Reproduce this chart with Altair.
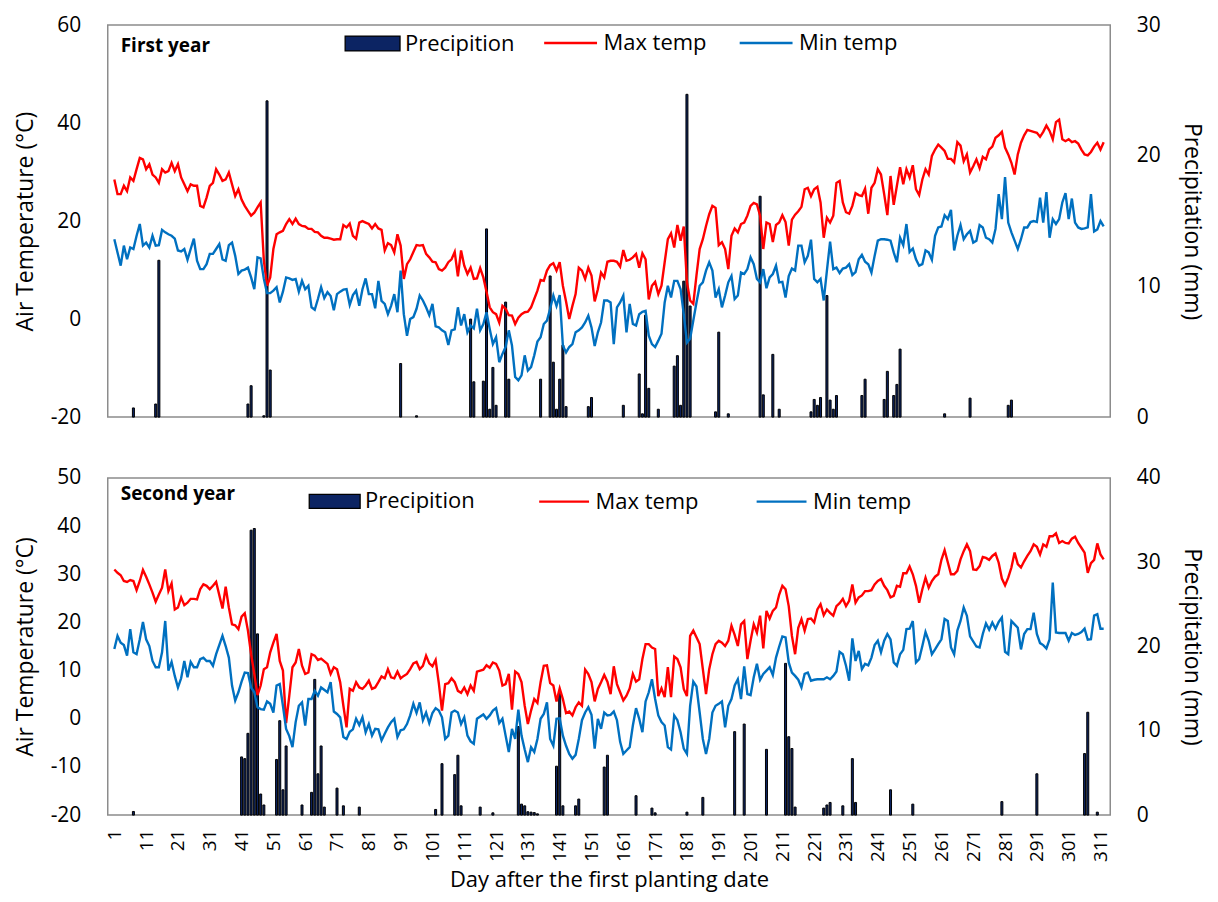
import altair as alt
import pandas as pd

FONT = "Open Sans"

# ---------------- First year ----------------
y1_max = [
    28.5, 25.5, 25.5, 27.2, 26.1, 28.9, 28.2, 30.6, 32.9, 32.6,
    30.6, 31.6, 29.5, 28.9, 27.8, 30.6, 29.9, 30.2, 31.9, 30.2,
    31.6, 28.9, 27.5, 26.1, 27.5, 27.2, 27.2, 23.1, 22.8, 24.8,
    27.2, 27.8, 30.6, 29.5, 28.2, 28.5, 29.9, 27.5, 25.1, 26.5,
    24.4, 23.1, 22.1, 21.1, 21.7, 22.8, 23.8, 12.0, 6.8, 8.5,
    14.3, 17.3, 17.7, 18.0, 19.4, 20.4, 19.4, 20.5, 19.4, 19.0,
    18.9, 18.4, 18.4, 17.8, 17.7, 17.0, 16.6, 16.6, 16.4, 16.2,
    16.3, 16.3, 19.2, 18.7, 19.5, 17.0, 16.4, 19.7,
    20.0, 19.7, 19.4, 18.5, 19.4, 18.5, 18.2, 14.0, 15.5, 15.1,
    13.6, 17.3, 15.0, 8.2, 11.2, 12.2, 13.7, 15.1, 15.0, 15.1,
    13.3, 12.6, 11.7, 11.6, 10.2, 9.9, 10.5, 11.6, 12.2, 13.7,
    8.7, 14.0, 10.9, 9.2, 10.5, 8.2, 8.3, 10.4, 8.5, 5.6,
    2.4, 1.4, 1.0, -0.7, 2.7, 2.1, 0.8, 0.7, -1.0, 0.3,
    1.0, 1.4, 1.5, 2.4, 4.1, 5.8, 8.0, 7.8, 9.9, 11.0,
    11.4, 9.9, 11.6, 6.8, 3.6, 0.0, 2.7, 5.1, 10.5, 9.9,
    8.2, 10.5, 8.9, 3.6,
    6.1, 9.5, 8.5, 11.7, 11.9, 11.9, 11.7, 10.7, 14.1, 11.9,
    12.1, 12.6, 13.3, 10.5, 13.4, 12.2, 4.0, 6.8, 7.6, 5.1,
    6.8, 11.6, 16.3, 17.5, 14.6, 19.2, 16.0, 18.9, 7.5, 3.8,
    3.1, 8.9, 14.3, 16.3, 19.0, 21.4, 23.1, 22.7, 15.1, 15.7,
    14.3, 10.2, 17.0, 18.5, 17.7, 19.4, 19.7, 21.1, 23.1, 23.7,
    23.4, 21.1, 14.3, 19.7, 19.4, 15.7, 19.2, 19.7, 21.2, 19.8,
    15.0, 20.3, 21.3, 22.0, 22.9, 26.5, 26.8, 25.1, 26.5, 27.0,
    23.8, 16.6, 20.7, 19.7, 21.1, 27.8, 28.2,
    23.8, 21.8, 21.5, 23.1, 25.7, 25.3, 25.1, 26.6, 21.5, 26.8,
    27.8, 30.6, 29.5, 25.5, 21.2, 29.2, 23.3, 27.2, 31.0, 27.5,
    30.6, 28.9, 31.4, 26.5, 25.3, 28.5, 30.6, 29.5, 33.3, 34.6,
    35.6, 35.0, 34.3, 32.7, 32.7, 32.0, 36.1, 35.4, 32.2, 33.6,
    29.9, 31.2, 32.6, 30.8, 33.1, 32.6, 34.6, 35.2, 37.0, 37.5,
    38.2, 35.0, 33.6, 31.9, 29.5, 33.6, 36.0, 37.5, 38.6, 38.4,
    38.2, 38.0, 37.2, 38.2, 39.5, 38.4, 36.7, 40.2, 40.7, 36.7,
    36.3, 36.7, 36.1, 36.3, 35.8, 34.6, 33.6, 33.4, 34.1, 35.2,
    36.0, 34.6, 36.1,
]
y1_max_days = list(range(1, 313))

y1_min = [
    16.3, 13.6, 10.9, 15.0, 12.2, 14.6, 14.3, 17.0, 19.4, 15.0,
    15.6, 14.6, 17.0, 15.0, 15.1, 18.2, 17.7, 17.3, 17.0, 16.4,
    14.0, 13.8, 14.3, 12.1, 14.3, 16.4, 11.9, 10.2, 10.2, 11.2,
    13.3, 13.3, 14.3, 15.3, 12.2, 11.9, 15.1, 15.6, 12.9, 9.2,
    9.9, 10.1, 10.5, 8.5, 6.1, 12.6, 12.4, 8.2, 5.3, 5.3,
    5.8, 6.5, 3.4, 5.6, 8.5, 8.3, 8.0, 8.2, 5.6, 7.8,
    6.1, 6.8, 2.4, 1.9, 4.1, 6.5, 4.3, 5.5, 4.7, 1.8,
    5.1, 5.6, 6.0, 6.1, 2.9, 4.9, 5.8, 2.7,
    6.1, 8.3, 5.1, 5.1, 2.2, 7.8, 3.7, 3.1, 1.0, 2.7,
    5.1, 1.4, 9.9, 1.0, -3.4, 0.0, 0.4, 2.1, 4.8, 3.8,
    2.4, 0.8, 3.1, -1.5, -1.7, -2.3, -2.7, -5.3, -2.3, -2.1,
    2.4, -1.3, 1.0, -2.7, -1.3, -1.9, 2.1, -2.3, -1.0, 1.4,
    -2.0, -5.1, -3.7, -8.8, -7.1, -5.7, -2.3, -5.4, -11.8, -12.5,
    -11.5, -7.4, -10.5, -9.8, -7.4, -4.6, -3.7, -1.0, -0.3, 2.1,
    4.8, 2.7, 4.9, -5.4, -6.8, -5.7, -5.1, -2.7, -2.3, -1.7,
    -0.7, 0.7, -1.7, -5.5,
    -2.7, -0.7, 3.8, 3.8, 3.4, -5.1, 2.4, 3.4, 4.8,
    -2.7, 3.1, -1.0, -1.3, 1.0, 1.5, 1.7, -3.4, -5.1, -5.7,
    -4.4, -3.0, 3.4, 6.8, 4.4, 7.8, 7.8, 6.1, 1.0, -4.8,
    -4.0, -0.3, 3.4, 6.8, 7.5, 9.9, 11.6, 9.9, 4.4, 6.1,
    2.4, 4.8, 7.5, 8.8, 4.1, 4.8, 9.5, 9.2, 10.2, 12.6,
    11.2, 8.2, 7.5, 10.2, 6.3, 8.5, 9.2, 10.9, 7.5, 7.6,
    4.4, 8.8, 10.3, 9.9, 15.0, 15.0, 11.6, 12.9, 16.2, 8.2,
    7.5, 8.2, 3.8, 9.9, 15.8, 10.2, 10.5, 9.4,
    10.3, 10.5, 11.2, 9.0, 9.6, 12.2, 13.1, 11.7, 11.2, 9.5,
    12.9, 16.0, 16.3, 16.3, 16.2, 16.0, 13.6, 11.6, 16.6, 15.1,
    19.4, 13.7, 14.4, 12.2, 10.9, 11.2, 14.0, 13.6, 12.1, 17.0,
    18.7, 18.9, 21.2, 20.4, 22.3, 14.0, 17.0, 19.2, 16.3, 17.3,
    18.0, 15.6, 16.0, 19.2, 18.7, 16.6, 16.3, 15.6, 18.4, 25.5,
    20.4, 29.0, 19.7, 17.7, 16.0, 14.3, 16.3, 18.7, 18.7, 19.8,
    20.0, 19.8, 24.8, 19.7, 25.9, 16.6, 20.4, 19.4, 20.4, 23.8,
    25.7, 20.4, 24.6, 19.7, 18.7, 18.4, 18.5, 18.7, 25.5, 17.9,
    18.3, 20.0, 18.9,
]
y1_min_days = list(range(1, 313))

y1_rain_days = [7, 14, 15, 43, 44, 48, 49, 50, 91, 96, 113, 114, 117, 118, 119, 120, 121,
                124, 125, 135, 138, 139, 140, 141, 142, 143, 150, 151, 161, 166, 167, 168,
                169, 172, 177, 178, 179, 180, 181, 182, 190, 191, 194, 204, 205, 208, 210,
                220, 221, 222, 223, 225, 226, 227, 228, 236, 237, 243, 244, 246, 247, 248,
                262, 270, 282, 283]
y1_rain = [0.7, 1.0, 12.0, 1.0, 2.4, 0.1, 24.2, 3.6, 4.1, 0.1, 7.5, 2.7, 2.75, 14.4, 0.6, 3.8, 0.9,
           8.8, 2.9, 2.9, 10.8, 4.2, 0.6, 2.9, 5.5, 0.8, 0.8, 1.5, 0.9, 3.3, 0.25, 7.8,
           2.2, 0.6, 3.9, 4.7, 0.9, 10.4, 24.7, 8.5, 0.4, 6.5, 0.25, 16.9, 1.7, 4.8, 0.6,
           0.4, 1.35, 0.9, 1.5, 9.3, 1.3, 0.6, 1.65, 1.65, 2.9, 1.35, 3.5, 1.65, 2.5, 5.2,
           0.25, 1.45, 0.9, 1.3]

# ---------------- Second year ----------------
y2_max = [
    31.0, 30.3, 29.8, 28.6, 28.4, 28.8, 28.6, 26.7, 28.6, 30.9,
    29.5, 27.9, 26.2, 24.3, 25.8, 27.2, 31.0, 26.5, 28.1, 22.7,
    23.1, 25.2, 23.6, 24.1, 24.9, 24.9, 24.8, 26.9, 27.9, 27.6,
    26.9, 27.6, 28.4, 22.9, 27.4, 23.1, 19.6, 19.4, 18.6, 21.2,
    21.9, 18.3, 13.4, 9.3, 4.9, 6.9, 10.3, 10.7, 13.8, 15.8,
    17.6, 12.0, 10.0, -0.9, 4.8, 10.7, 11.7, 14.5, 11.0, 9.3,
    9.6, 13.4, 13.1, 12.2, 12.5, 11.4, 9.3, 10.7, 10.3, 7.6,
    2.7, -1.8, 6.2, 5.8, 7.6, 6.5, 6.2,
    6.9, 7.9, 6.2, 6.5, 7.6, 8.8, 8.4, 10.3, 8.6,
    8.4, 9.8, 8.4, 8.9, 9.3, 10.3, 11.5, 11.8, 10.3, 11.0,
    13.1, 11.5, 10.9, 12.2, 7.4, 1.7, 7.2, 7.4, 8.4, 7.6,
    5.8, 5.4, 6.5, 5.1, 6.9, 5.8, 9.8, 10.2, 11.1, 10.6,
    11.7, 11.4, 10.0, 6.9, 7.2, 9.3, 1.9, 9.8, 9.3, 7.6,
    2.7, -1.1, 1.7, 4.1, 3.3, 7.6, 11.0, 11.1, 7.4, 6.9,
    3.6, 6.3, 4.1, 1.2, 1.5, 0.7, 2.4, 3.4, 2.7, 10.2,
    9.3, 7.6, 3.6,
    6.2, 7.6, 9.1, 7.7, 5.1, 10.9, 7.2, 5.5, 3.8, 4.8,
    6.3, 9.3, 7.7, 8.2, 12.4, 15.5, 15.5, 14.8, 14.5, 4.7,
    6.3, 4.5, 10.7, 4.5, 12.9, 12.4, 10.7, 6.2, 4.7, 17.2,
    18.3, 16.9, 15.5, 10.3, 5.1, 10.3, 13.4, 15.5, 16.2, 15.8,
    15.1, 16.2, 19.3, 17.4, 15.1, 19.6, 20.3, 12.4, 16.2, 19.6,
    17.9, 21.4, 14.6, 22.4, 20.8, 22.4, 23.1, 25.8, 27.6, 26.9,
    23.4, 17.2, 13.4, 18.9, 20.7, 18.3, 20.7, 20.8, 20.0, 22.7,
    23.8, 21.5, 22.7, 22.0, 21.4, 23.4, 24.0,
    24.9, 23.4, 24.5, 27.9, 24.1, 25.2, 25.6, 26.5, 26.5, 26.7,
    27.9, 28.6, 29.0, 27.6, 26.7, 25.2, 25.5, 27.6, 27.4, 30.2,
    30.2, 31.6, 30.0, 27.6, 24.1, 26.9, 29.3, 27.2, 28.6, 29.5,
    30.0, 33.0, 35.0, 32.5, 30.0, 30.0, 30.7, 33.1, 34.8, 36.2,
    34.8, 31.0, 30.9, 31.7, 33.6, 33.4, 33.0, 33.8, 34.3, 32.4,
    29.1, 27.7, 29.3, 31.4, 34.5, 32.1, 31.4, 32.7, 33.8, 34.8,
    36.2, 35.7, 34.1, 36.2, 35.7, 37.9, 37.9, 38.5, 36.5, 36.9,
    36.5, 36.4, 37.4, 37.8, 36.5, 35.5, 34.5, 30.3, 32.3, 33.0,
    36.4, 34.1, 33.1,
]
y2_max_days = (list(range(1, 34)) + list(range(35, 67)) + list(range(68, 80))
               + list(range(80, 116)) + list(range(117, 153))
               + list(range(153, 230)) + list(range(230, 313)))

y2_min = [
    14.5, 17.2, 15.8, 15.3, 13.1, 18.6, 13.8, 13.4, 16.5, 20.1,
    16.5, 15.1, 12.0, 10.7, 10.7, 13.8, 20.3, 10.0, 11.8, 8.9,
    6.5, 8.4, 12.0, 8.6, 11.8, 10.7, 10.7, 12.4, 12.7, 12.0,
    12.0, 11.0, 13.4, 17.2, 15.1, 12.7, 6.9, 3.8, 5.5, 7.7,
    9.6, 9.5, 6.5, 5.5, 2.4, 2.0, 1.9, 3.6, 3.1, 1.3,
    6.9, 7.2, 2.7, -2.1, -3.6, -5.9, -0.7, 2.7, 3.4, -1.4,
    4.1, 4.1, 5.8, 4.8, 6.5, 5.5, 7.6, 1.5, 1.0, 0.3,
    -3.8, -4.2, -2.7, -2.2, 0.0, -1.3, 0.3,
    -2.8, -1.1, -3.5, -2.1, -2.2, -4.5, -3.1, -1.8, -0.7,
    0.0, -3.8, -2.4, -2.2, -1.1, 0.7, 3.1, 1.2, 3.4, -0.3,
    1.3, -0.9, 1.2, 2.2, 1.7, 0.3, -4.2, -3.5, 1.3, 1.7,
    1.3, -1.1, 0.3, -3.5, -4.7, -5.2, 0.0, 0.9, 0.0, 0.7,
    1.7, 2.2, -0.9, 0.0, -3.5, -6.9, -2.1, -4.2, 1.9, -3.5,
    -6.4, -9.0, -5.9, -6.9, -4.2, 0.0, 1.0, 3.4, -4.2, -5.6,
    0.0, 0.1, -3.5, -5.6, -7.3, -8.3, -7.5, -4.2, -0.3, 1.3,
    2.4, 0.8, -6.2,
    0.0, -2.1, 1.3, 0.7, 0.8, 1.5, -0.3, -4.8, -7.3, -6.6,
    -5.9, -1.4, 2.2, 0.0, -2.8, 3.6, 5.5, 8.2, 4.1, 0.7,
    -0.7, -1.4, -5.9, -6.4, 0.7, -0.3, -2.8, -6.2, -7.3, 2.7,
    7.7, 6.7, 1.3, -4.2, -7.3, -4.2, 1.3, 2.7, 3.1, 3.6,
    -1.8, 2.7, 4.1, 6.9, 8.2, 4.1, 10.9, 5.1, 4.9, 8.6,
    11.4, 8.1, 9.3, 10.0, 10.7, 9.1, 12.7, 15.0, 17.1, 16.9,
    11.7, 9.6, 8.9, 8.1, 6.5, 9.3, 9.6, 7.9, 8.1, 8.2,
    8.2, 8.2, 8.6, 8.2, 8.9, 9.8, 13.9,
    13.4, 11.0, 7.9, 16.7, 12.0, 14.1, 10.3, 11.4, 11.1, 12.7,
    15.3, 16.2, 13.8, 16.2, 17.6, 16.5, 11.7, 11.0, 13.4, 14.3,
    18.6, 18.7, 20.3, 11.7, 12.4, 15.1, 18.0, 16.2, 13.4, 14.4,
    15.5, 16.5, 20.7, 20.3, 14.8, 13.4, 18.3, 20.3, 23.1, 21.4,
    17.1, 15.0, 14.8, 17.6, 19.8, 18.5, 20.0, 18.7, 20.1, 21.0,
    13.9, 13.4, 20.3, 19.6, 18.9, 14.4, 17.6, 18.6, 18.6, 22.0,
    17.6, 15.7, 15.3, 14.6, 16.5, 28.3, 17.9, 17.8, 17.8, 17.8,
    16.2, 17.8, 17.4, 17.6, 18.0, 18.7, 16.4, 16.5, 21.4, 21.7,
    18.7, 18.7,
]
y2_min_days = (list(range(1, 34)) + list(range(35, 67)) + list(range(68, 80))
               + list(range(80, 116)) + list(range(117, 153))
               + list(range(153, 230)) + list(range(230, 271)) + list(range(272, 313)))

y2_rain_days = [7, 41, 42, 43, 44, 45, 46, 47, 48, 52, 53, 54, 55, 60, 63, 64, 65, 66, 67,
                71, 73, 78, 102, 104, 108, 109, 110, 116, 120, 128, 129, 130, 131, 132,
                133, 134, 140, 141, 142, 146, 147, 155, 156, 165, 170, 171, 181, 186, 196,
                199, 206, 212, 213, 214, 215, 224, 225, 226, 230, 233, 234, 245, 252, 280,
                291, 306, 307, 310]
y2_rain = [0.43, 6.9, 6.7, 9.7, 33.8, 34.0, 21.5, 2.5, 1.2, 6.6, 11.2, 3.0, 8.2, 1.2, 2.7, 16.1,
           4.9, 8.2, 0.95, 3.2, 1.1, 0.95, 0.67, 6.1, 4.8, 7.1, 1.1, 0.95, 0.27, 10.5, 1.3,
           1.1, 0.4, 0.35, 0.3, 0.15, 5.8, 14.6, 1.1, 1.1, 1.9, 5.7, 7.1, 2.3, 0.83, 0.27,
           0.35, 2.1, 9.9, 10.8, 7.8, 18.0, 9.3, 7.9, 0.95, 0.83, 1.2, 1.5, 1.1, 6.7, 1.5,
           3.0, 1.3, 1.6, 4.9, 7.3, 12.2, 0.35]

x_ticks = list(range(1, 312, 10))
series_names = ["Max temp", "Min temp"]
series_colors = ["#FF0000", "#0070C0"]
rain_name = "Precipition"
rain_fill = "#0C2463"

PLOT_W = 1005
HYPHEN = "replace(datum.label, '\u2212', '-')"


def rect_path(h):
    return "M-1,-%sL1,-%sL1,%sL-1,%sZ" % (h, h, h, h)


def panel(label, label_y, max_days, max_vals, min_days, min_vals, r_days, r_vals,
          t_dom, t_vals, p_dom, p_vals, height, leg):
    lines = pd.DataFrame({
        "day": list(max_days) + list(min_days),
        "temp": list(max_vals) + list(min_vals),
        "series": [series_names[0]] * len(max_vals) + [series_names[1]] * len(min_vals),
    })
    rain = pd.DataFrame({"day": r_days, "precip": r_vals, "kind": [rain_name] * len(r_days)})
    if leg["show_x"]:
        xaxis = alt.Axis(values=x_ticks, labelAngle=270, labelPadding=14, labelFontSize=19,
                         title="Day after the first planting date", titlePadding=8,
                         titleFontSize=22)
    else:
        xaxis = None
    xenc = alt.X("day:Q", scale=alt.Scale(domain=[0.5, 312.5], nice=False, zero=False),
                 axis=xaxis)
    bars = alt.Chart(rain).mark_bar(size=2, stroke="black", strokeWidth=1).encode(
        x=xenc,
        y=alt.Y("precip:Q", scale=alt.Scale(domain=p_dom, nice=False),
                axis=alt.Axis(orient="right", values=p_vals, title="Precipitation (mm)",
                              labelPadding=26, titlePadding=19)),
        fill=alt.Fill("kind:N", scale=alt.Scale(domain=[rain_name], range=[rain_fill]),
                      legend=alt.Legend(orient="none", legendX=leg["fx"], legendY=leg["y"],
                                        direction="horizontal", title=None,
                                        symbolType=rect_path(leg["rh"]), symbolSize=leg["rs"],
                                        symbolStrokeColor="black", symbolStrokeWidth=1.3,
                                        labelOffset=4)),
    )
    line = alt.Chart(lines).mark_line(strokeWidth=2.4).encode(
        x=xenc,
        y=alt.Y("temp:Q", scale=alt.Scale(domain=t_dom, nice=False),
                axis=alt.Axis(orient="left", values=t_vals, title="Air Temperature (°C)",
                              labelExpr=HYPHEN, labelPadding=27, titlePadding=13)),
        stroke=alt.Stroke("series:N", scale=alt.Scale(domain=series_names, range=series_colors),
                          legend=alt.Legend(orient="none", legendX=leg["lx"], legendY=leg["y"],
                                            direction="horizontal", title=None,
                                            symbolType="stroke", symbolSize=leg["ls"],
                                            symbolStrokeWidth=2.4, labelOffset=5,
                                            columnPadding=leg["cp"])),
    )
    txt = alt.Chart(pd.DataFrame({"t": [label]})).mark_text(
        align="left", baseline="middle", font=FONT, fontSize=19, fontWeight="bold",
        color="black").encode(text="t:N", x=alt.value(13), y=alt.value(label_y))
    return alt.layer(bars, line, txt).resolve_scale(y="independent").properties(
        width=PLOT_W, height=height)


top = panel("First year", 21, y1_max_days, y1_max, y1_min_days, y1_min, y1_rain_days, y1_rain,
            [-20, 60], [-20, 0, 20, 40, 60], [0, 30], [0, 10, 20, 30], 393,
            dict(fx=237, lx=436, y=-10, rh=0.27, rs=3025, ls=2809, cp=27, show_x=False))
bottom = panel("Second year", 16, y2_max_days, y2_max, y2_min_days, y2_min, y2_rain_days, y2_rain,
               [-20, 50], [-20, -10, 0, 10, 20, 30, 40, 50], [0, 40], [0, 10, 20, 30, 40], 338,
               dict(fx=201, lx=431, y=-3, rh=0.275, rs=2601, ls=2500, cp=52, show_x=True))

chart = alt.vconcat(top, bottom, spacing=38).resolve_scale(
    fill="independent", stroke="independent").resolve_legend(
    fill="independent", stroke="independent").properties(
    padding={"left": 5, "top": 4, "right": 7, "bottom": 2}
).configure_view(stroke="#8C8C8C", strokeWidth=1.5).configure_axis(
    labelFont=FONT, labelFontSize=21, labelColor="black", titleFont=FONT,
    titleFontSize=23, titleFontWeight="normal", titleColor="black",
    grid=False, ticks=False, domain=False
).configure_legend(labelFont=FONT, labelFontSize=22, labelColor="black", padding=0)

chart.save("out.html", embed_options={"renderer": "svg", "actions": False})
